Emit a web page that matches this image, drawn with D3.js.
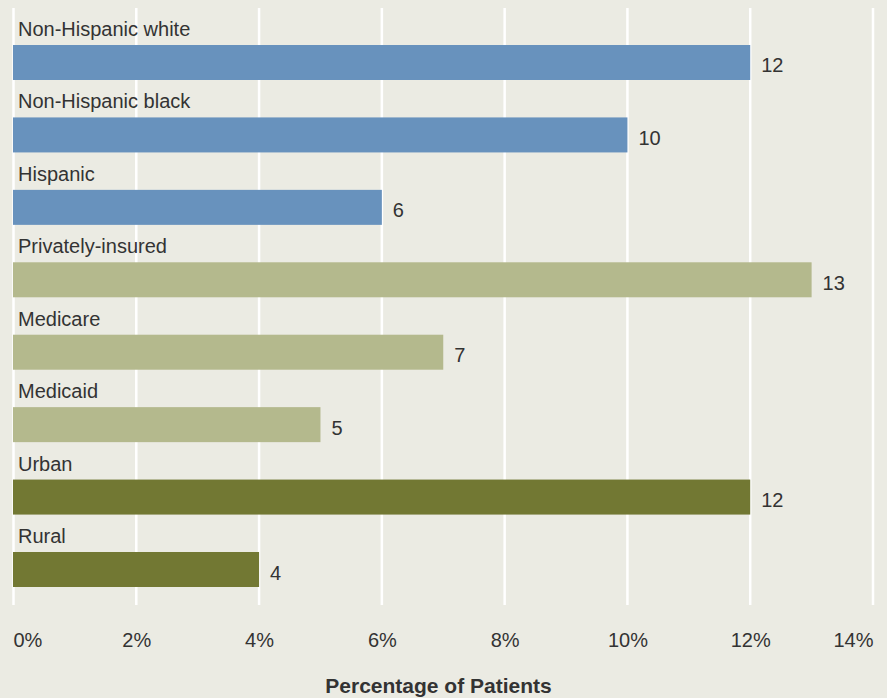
<!DOCTYPE html>
<html>
<head>
<meta charset="utf-8">
<script src="https://cdn.jsdelivr.net/npm/d3@7"></script>
<style>
  html, body { margin: 0; padding: 0; background: #ebebe3; }
  svg { display: block; }
  text { font-family: "Liberation Sans", Arial, sans-serif; fill: #333; }
</style>
</head>
<body>
<svg id="chart" width="887" height="698"></svg>
<script>
// Share of patients by group
const categories = [
  "Non-Hispanic white", "Non-Hispanic black", "Hispanic",
  "Privately-insured", "Medicare", "Medicaid",
  "Urban", "Rural"
];
const values = [12, 10, 6, 13, 7, 5, 12, 4];
const groups = ["race", "race", "race", "insurance", "insurance", "insurance", "location", "location"];
const tickValues = [0, 2, 4, 6, 8, 10, 12, 14];
const axisTitle = "Percentage of Patients";

const groupColor = d3.scaleOrdinal()
  .domain(["race", "insurance", "location"])
  .range(["#6892bd", "#b4b98d", "#727833"]);

const svg = d3.select("#chart");
const W = 887, H = 698;

svg.append("rect").attr("width", W).attr("height", H).attr("fill", "#ebebe3");

const x = d3.scaleLinear().domain([0, 14]).range([13.5, 873]);
const y = d3.scaleBand().domain(categories).range([45, 587])
  .paddingInner(0.5168).paddingOuter(0);

// vertical gridlines
svg.append("g").selectAll("line")
  .data(tickValues)
  .join("line")
  .attr("x1", d => x(d)).attr("x2", d => x(d))
  .attr("y1", 8).attr("y2", 605)
  .attr("stroke", "#ffffff").attr("stroke-width", 2.5);

const data = categories.map((c, i) => ({ name: c, value: values[i], group: groups[i] }));

// bars
svg.append("g").selectAll("rect")
  .data(data)
  .join("rect")
  .attr("x", x(0) - 0.5)
  .attr("y", d => y(d.name))
  .attr("width", d => x(d.value) - x(0) + 0.5)
  .attr("height", y.bandwidth())
  .attr("fill", d => groupColor(d.group));

// category labels above the bars
svg.append("g").selectAll("text")
  .data(data)
  .join("text")
  .attr("x", 18)
  .attr("y", d => y(d.name) - 9)
  .attr("font-size", 20)
  .text(d => d.name);

// value labels at the bar ends
svg.append("g").selectAll("text")
  .data(data)
  .join("text")
  .attr("x", d => x(d.value) + 11)
  .attr("y", d => y(d.name) + y.bandwidth() / 2 + 10)
  .attr("font-size", 20)
  .text(d => d.value);

// x axis tick labels
const axis = d3.axisBottom(x).tickValues(tickValues).tickSize(0).tickPadding(0)
  .tickFormat(d => d + "%");
const ax = svg.append("g").attr("transform", "translate(0,632.5)").call(axis);
ax.select(".domain").remove();
ax.selectAll("text")
  .attr("font-size", 20)
  .attr("dy", "0.71em")
  .attr("fill", "#333")
  .style("font-family", "Liberation Sans, Arial, sans-serif")
  .attr("text-anchor", (d, i) => i === 0 ? "start" : (i === tickValues.length - 1 ? "end" : "middle"))
  .attr("dx", (d, i) => i === 0 ? -0.5 : 0);

// axis title
svg.append("text")
  .attr("x", 438.5)
  .attr("y", 693)
  .attr("text-anchor", "middle")
  .attr("font-size", 21)
  .attr("font-weight", "bold")
  .attr("fill", "#222")
  .text(axisTitle);
</script>
</body>
</html>
